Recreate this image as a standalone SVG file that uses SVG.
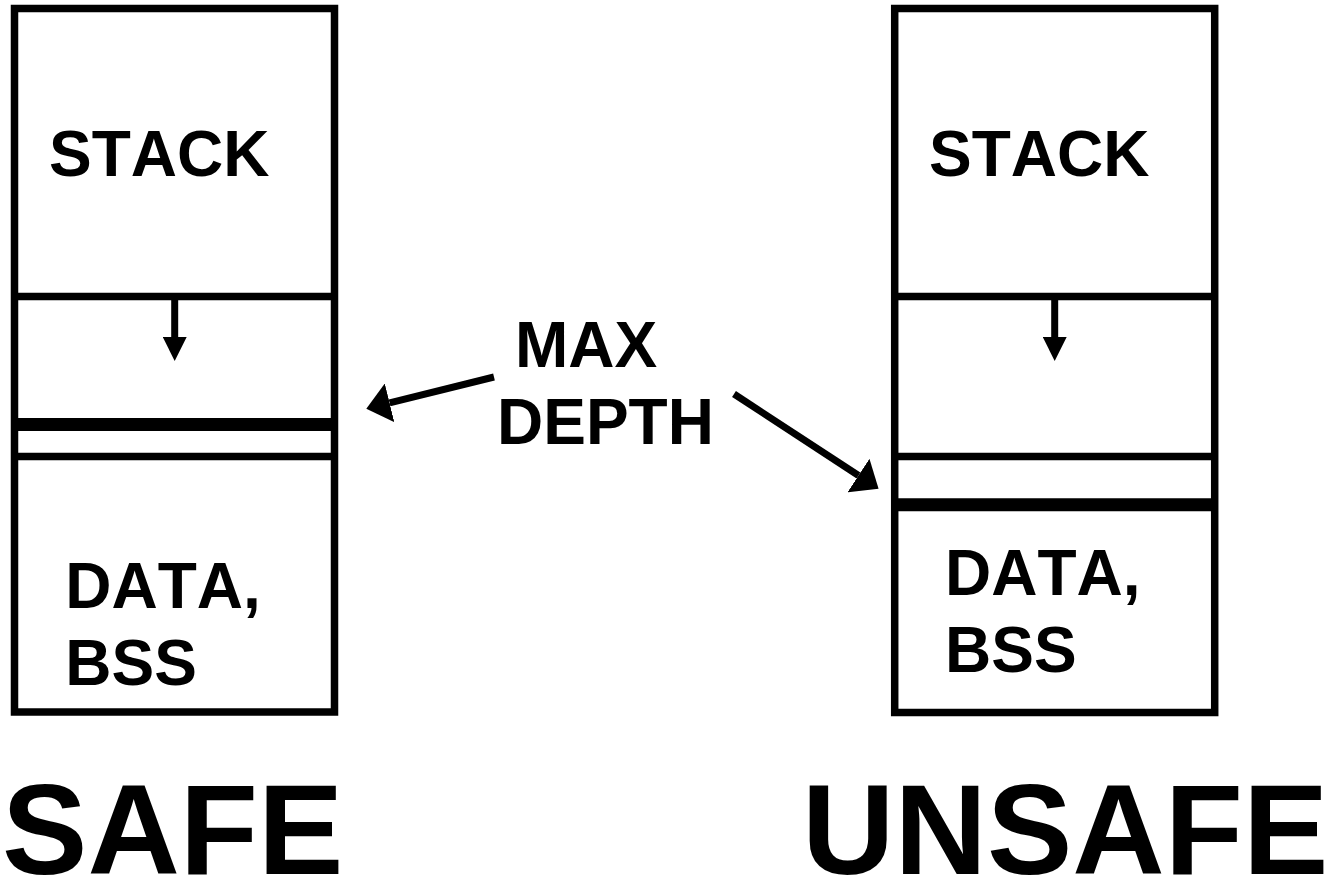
<svg xmlns="http://www.w3.org/2000/svg" width="1332" height="880" viewBox="0 0 1332 880">
<style>
.box{fill:none;stroke:#000;stroke-width:7.5}
.div{stroke:#000;stroke-width:7.5}
.thick{stroke:#000;stroke-width:13}
.conn{stroke:#000;stroke-width:7;fill:none}
text{font-family:"Liberation Sans",Arial,sans-serif;font-weight:bold;fill:#000;font-kerning:none}
.lbl{font-size:64px}
.big{font-size:128px}
</style>
<defs>
<marker id="headBig" viewBox="0 0 24 40" refX="0" refY="20" markerWidth="24" markerHeight="40" markerUnits="userSpaceOnUse" orient="auto">
<path d="M0,0 L24,20 L0,40 z" fill="#000"/>
</marker>
<marker id="headSmall" viewBox="0 0 24 24" refX="0" refY="12" markerWidth="24" markerHeight="24" markerUnits="userSpaceOnUse" orient="auto">
<path d="M0,0 L24,12 L0,24 z" fill="#000"/>
</marker>
</defs>
<g id="safe">
<rect class="box" x="14.5" y="8.5" width="320" height="703.5"/>
<line class="div" x1="14.5" y1="296.5" x2="334.5" y2="296.5"/>
<line class="thick" x1="14.5" y1="424.5" x2="334.5" y2="424.5"/>
<line class="div" x1="14.5" y1="456.5" x2="334.5" y2="456.5"/>
<text class="lbl" x="49" y="176">STACK</text>
<text class="lbl" x="65.3" y="608">DATA,</text>
<text class="lbl" x="65.3" y="685">BSS</text>
</g>
<g id="unsafe">
<rect class="box" x="894.7" y="8.5" width="320" height="704"/>
<line class="div" x1="894.7" y1="296.5" x2="1214.7" y2="296.5"/>
<line class="div" x1="894.7" y1="456.5" x2="1214.7" y2="456.5"/>
<line class="thick" x1="894.7" y1="504.7" x2="1214.7" y2="504.7"/>
<text class="lbl" x="929" y="176">STACK</text>
<text class="lbl" x="945" y="595">DATA,</text>
<text class="lbl" x="945" y="672">BSS</text>
</g>
<g id="maxdepth">
<text class="lbl" x="515" y="367">MAX</text>
<text class="lbl" x="497" y="444">DEPTH</text>
</g>
<g id="titles">
<text class="big" x="2" y="874">SAFE</text>
<text class="big" x="802" y="874">UNSAFE</text>
</g>
<g id="connectors">
<line class="conn" x1="174.7" y1="300" x2="174.7" y2="337" marker-end="url(#headSmall)"/>
<line class="conn" x1="1054.7" y1="300" x2="1054.7" y2="337" marker-end="url(#headSmall)"/>
<line class="conn" x1="494" y1="377" x2="389.6" y2="402.9" marker-end="url(#headBig)"/>
<line class="conn" x1="734" y1="394" x2="858.5" y2="475.5" marker-end="url(#headBig)"/>
</g>
</svg>
